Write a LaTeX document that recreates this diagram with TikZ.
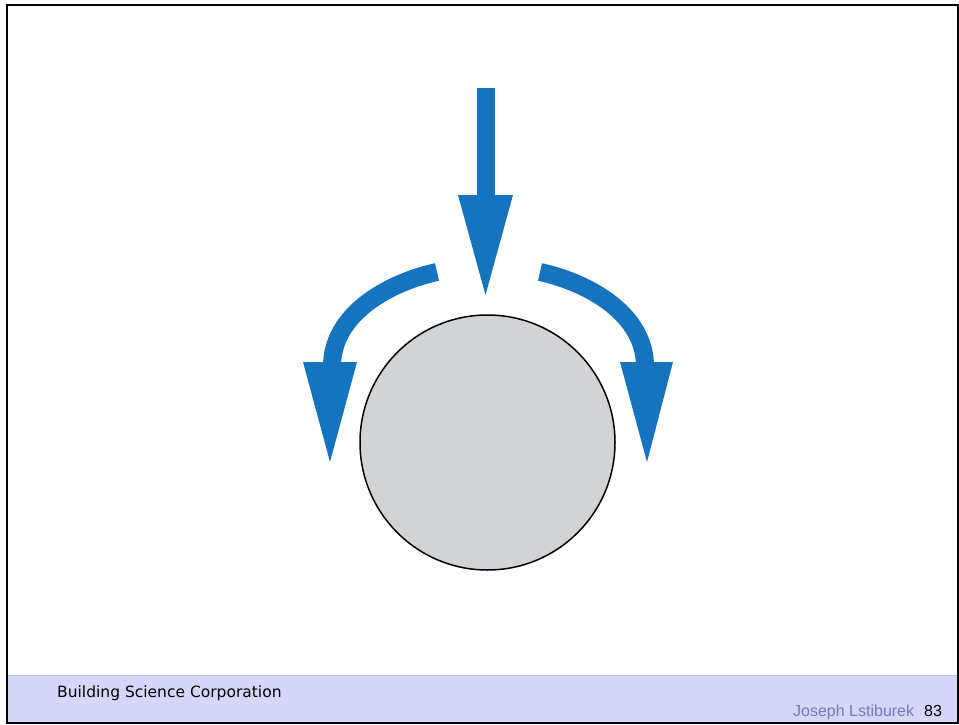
\documentclass[tikz,border=0pt]{standalone}
\usepackage{fontspec}
\newfontfamily\dejavu{DejaVu Sans}
\newfontfamily\libsans{Liberation Sans}
\definecolor{arrowblue}{RGB}{22,115,190}
\definecolor{ballgray}{RGB}{209,211,212}
\definecolor{footerbg}{RGB}{214,214,250}
\definecolor{footerline}{RGB}{190,190,235}
\definecolor{authorcol}{RGB}{120,120,180}
\tikzset{
  shaft/.style={draw=arrowblue, line width=18pt, line cap=butt},
  head/.style={fill=arrowblue, draw=none},
  ball/.style={circle, draw=black, line width=1.5pt, fill=ballgray, minimum size=255pt, inner sep=0pt},
  foottext/.style={inner sep=0pt, anchor=base west}
}
\begin{document}
\begin{tikzpicture}[x=1pt,y=-1pt]
\useasboundingbox (0,0) rectangle (959,725);
% footer band
\fill[footerbg] (7,675) rectangle (958,723);
\draw[footerline, line width=0.8pt] (7,675) -- (958,675);
% frame
\draw[black, line width=2pt] (7,5) rectangle (958,723);
% ball
\node[ball] (ball) at (487.5,442.5) {};
% central arrow
\fill[arrowblue] (476.5,88) rectangle (494.5,196);
\fill[head] (458,195) -- (513,195) -- (485.5,295) -- cycle;
% left arrow
\draw[shaft] (437,272) .. controls (395,281) and (334,310) .. (332,364);
\fill[head] (303,362) -- (357,362) -- (330,462) -- cycle;
% right arrow
\draw[shaft] (540,272) .. controls (582,281) and (643,310) .. (645,364);
\fill[head] (620,362) -- (673,362) -- (647,462) -- cycle;
% footer texts
\node[foottext, font=\dejavu\fontsize{15.5}{18}\selectfont] (bsc) at (57,697) {Building Science Corporation};
\node[foottext, font=\libsans\fontsize{16}{18}\selectfont, text=authorcol] (author) at (793,716) {Joseph Lstiburek};
\node[foottext, font=\libsans\fontsize{16}{18}\selectfont] (page) at (924,716) {83};
\end{tikzpicture}
\end{document}
